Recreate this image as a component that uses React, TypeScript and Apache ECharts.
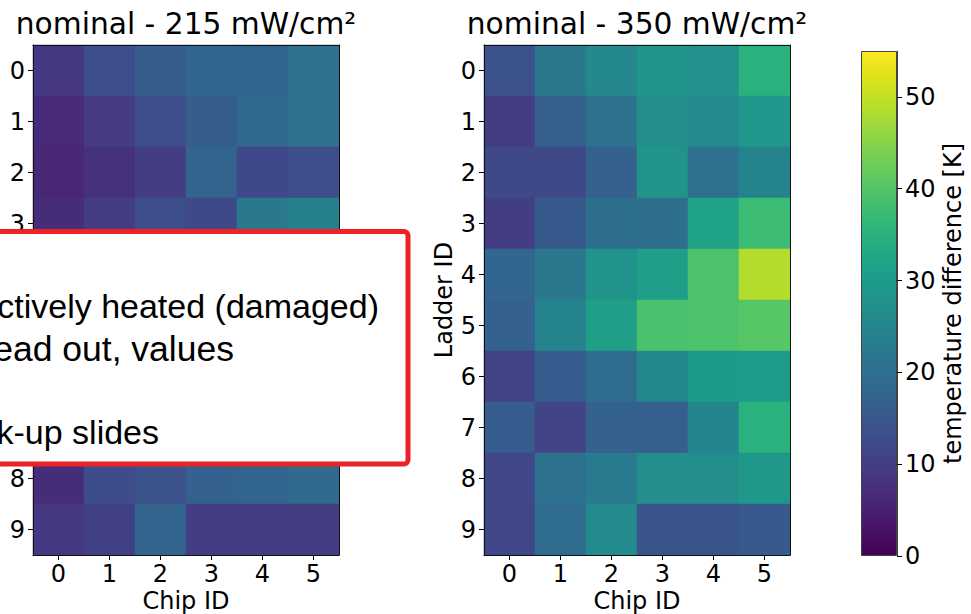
import React, { useEffect, useRef } from 'react';
import * as echarts from 'echarts';

const chipIds = ['0', '1', '2', '3', '4', '5'];
const ladderIds = ['0', '1', '2', '3', '4', '5', '6', '7', '8', '9'];

// rows = ladder ID 0..9, columns = chip ID 0..5 (temperature difference in K)
const nominal215 = [
  [8.8, 13, 16.3, 18, 17.8, 20.7],
  [6.5, 9.5, 13, 16.3, 18.5, 20.5],
  [6, 7.7, 9.8, 17.5, 11.7, 13],
  [6.8, 10, 13, 12, 22, 24],
  [7, 10.5, 13.5, 15, 17, 19],
  [7.5, 11, 14, 16, 18, 20],
  [7, 10, 12.5, 14.5, 16.5, 18],
  [7.5, 10.5, 13, 15, 17, 19],
  [6.8, 12.5, 13.7, 17, 17.8, 19],
  [8.8, 10.3, 17.5, 10, 10, 10],
];

const nominal350 = [
  [13.7, 21.8, 25.5, 28.5, 27.7, 35],
  [10, 16.5, 20.5, 27, 26, 29],
  [12, 12, 17, 28, 20.5, 24.5],
  [10, 15.5, 20, 20, 31.6, 37.5],
  [18, 22, 28, 31, 39.3, 48.7],
  [17, 24.5, 31, 39, 39.5, 40.5],
  [11, 16, 19.3, 25.3, 29.8, 30],
  [16, 11, 17, 16.7, 25, 35],
  [11.5, 20.5, 22.5, 27, 27, 29.3],
  [11.5, 19.3, 26, 14.2, 14, 15.3],
];

// ladder rows of the left map that lie under the overlay box (their labels are hidden there)
const coveredLadders = [4, 5, 6, 7];

const colorMin = 0;
const colorMax = 55;
const colorbarTicks = [0, 10, 20, 30, 40, 50];

const viridis = [
  '#440154', '#471365', '#482475', '#463480', '#414487', '#3b528b', '#355f8d',
  '#2f6c8e', '#2a788e', '#25848e', '#21918c', '#1e9c89', '#22a884', '#2fb47c',
  '#44bf70', '#5ec962', '#7ad151', '#9bd93c', '#bddf26', '#dfe318', '#fde725',
];

const boxLines = ['ctively heated (damaged)', 'ead out, values', 'k-up slides'];

const toCells = (m: number[][]) => {
  const out: number[][] = [];
  m.forEach((row, r) => row.forEach((v, c) => out.push([c, r, v])));
  return out;
};

const FONT = 'DejaVu Sans';
const txt = { color: '#000', fontFamily: FONT, fontSize: 24 };

function gridAxes(gridIndex: number, showYName: boolean, hiddenRows: number[]) {
  const line = { show: true, lineStyle: { color: '#111', width: 1 } };
  const xs = [
    {
      type: 'category', gridIndex, data: chipIds, position: 'bottom', z: 10,
      axisLine: line,
      axisTick: { show: true, alignWithLabel: true, length: 5, lineStyle: { color: '#000' } },
      axisLabel: { ...txt, margin: 7, lineHeight: 24 },
      splitLine: { show: false },
      name: 'Chip ID', nameLocation: 'middle', nameGap: 34, nameMoveOverlap: false,
      nameTextStyle: { ...txt, lineHeight: 24 },
    },
    {
      type: 'category', gridIndex, data: chipIds, position: 'top', z: 10,
      axisLine: line, axisTick: { show: false }, axisLabel: { show: false }, splitLine: { show: false },
    },
  ];
  const ys = [
    {
      type: 'category', gridIndex, data: ladderIds, inverse: true, position: 'left', z: 10,
      axisLine: line,
      axisTick: { show: true, interval: 0, alignWithLabel: true, length: 5, lineStyle: { color: '#000' } },
      axisLabel: {
        ...txt, margin: 8, lineHeight: 24,
        interval: (idx: number) => hiddenRows.indexOf(idx) < 0,
      },
      splitLine: { show: false },
      name: showYName ? 'Ladder ID' : '', nameLocation: 'middle', nameGap: 28, nameRotate: 90,
      nameMoveOverlap: false,
      nameTextStyle: { ...txt },
    },
    {
      type: 'category', gridIndex, data: ladderIds, inverse: true, position: 'right', z: 10,
      axisLine: line, axisTick: { show: false }, axisLabel: { show: false }, splitLine: { show: false },
    },
  ];
  return { xs, ys };
}

export default function App() {
  const ref = useRef<HTMLDivElement>(null);
  useEffect(() => {
    if (!ref.current) return;
    const chart = echarts.init(ref.current, null, { renderer: 'svg' });
    const a = gridAxes(0, false, coveredLadders);
    const b = gridAxes(1, true, []);
    const gradStops = viridis.map((c, i) => ({ offset: i / (viridis.length - 1), color: c }));
    chart.setOption({
      animation: false,
      backgroundColor: '#fff',
      grid: [
        { left: 33, top: 45, width: 306, height: 510, outerBoundsMode: 'none', containLabel: false },
        { left: 484, top: 45, width: 306, height: 510, outerBoundsMode: 'none', containLabel: false },
        { left: 861, top: 51, width: 36, height: 505, outerBoundsMode: 'none', containLabel: false },
      ],
      xAxis: [
        ...a.xs, ...b.xs,
        { type: 'category', gridIndex: 2, data: ['cb'], show: false },
      ],
      yAxis: [
        ...a.ys, ...b.ys,
        {
          type: 'value', gridIndex: 2, min: colorMin, max: colorMax, interval: 10, position: 'right',
          axisLine: { show: true, lineStyle: { color: '#444' } },
          axisTick: { show: true, length: 5, lineStyle: { color: '#000' }, customValues: colorbarTicks },
          axisLabel: { ...txt, margin: 8, customValues: colorbarTicks },
          splitLine: { show: false },
          name: 'temperature difference [K]', nameLocation: 'middle', nameRotate: 90, nameGap: 44,
          nameMoveOverlap: false,
          nameTextStyle: { ...txt },
        },
      ],
      visualMap: {
        show: false, type: 'continuous', min: colorMin, max: colorMax, seriesIndex: [0, 1],
        inRange: { color: viridis },
      },
      series: [
        {
          type: 'heatmap', xAxisIndex: 0, yAxisIndex: 0, data: toCells(nominal215),
          itemStyle: { borderWidth: 0 }, emphasis: { disabled: true },
        },
        {
          type: 'heatmap', xAxisIndex: 2, yAxisIndex: 2, data: toCells(nominal350),
          itemStyle: { borderWidth: 0 }, emphasis: { disabled: true },
        },
        {
          type: 'bar', xAxisIndex: 4, yAxisIndex: 4, data: [colorMax], barWidth: '100%',
          itemStyle: {
            color: new echarts.graphic.LinearGradient(0, 1, 0, 0, gradStops),
            borderColor: '#444', borderWidth: 1,
          },
          emphasis: { disabled: true }, silent: true,
        },
      ],
      graphic: [
        {
          type: 'text', z: 100, x: 186, y: 23,
          style: { text: 'nominal - 215 mW/cm²', font: `29.7px "${FONT}"`, fill: '#000', textAlign: 'center', textVerticalAlign: 'middle' },
        },
        {
          type: 'text', z: 100, x: 637, y: 23,
          style: { text: 'nominal - 350 mW/cm²', font: `29.7px "${FONT}"`, fill: '#000', textAlign: 'center', textVerticalAlign: 'middle' },
        },
        {
          type: 'rect', z: 100,
          shape: { x: -10, y: 231.5, width: 418, height: 232.5, r: 4 },
          style: { fill: '#fff', stroke: '#ec2227', lineWidth: 5 },
        },
        ...boxLines.map((t, i) => ({
          type: 'text', z: 101,
          x: [379, 234, 159][i], y: [323, 367, 449][i],
          style: {
            text: t, font: `${[34, 35.5, 34][i]}px "Liberation Sans"`, fill: '#000',
            textAlign: 'right', textVerticalAlign: 'bottom',
          },
        })),
      ],
    });
    return () => chart.dispose();
  }, []);
  return <div ref={ref} style={{ position: 'absolute', left: 0, top: 0, width: 971, height: 614 }} />;
}
